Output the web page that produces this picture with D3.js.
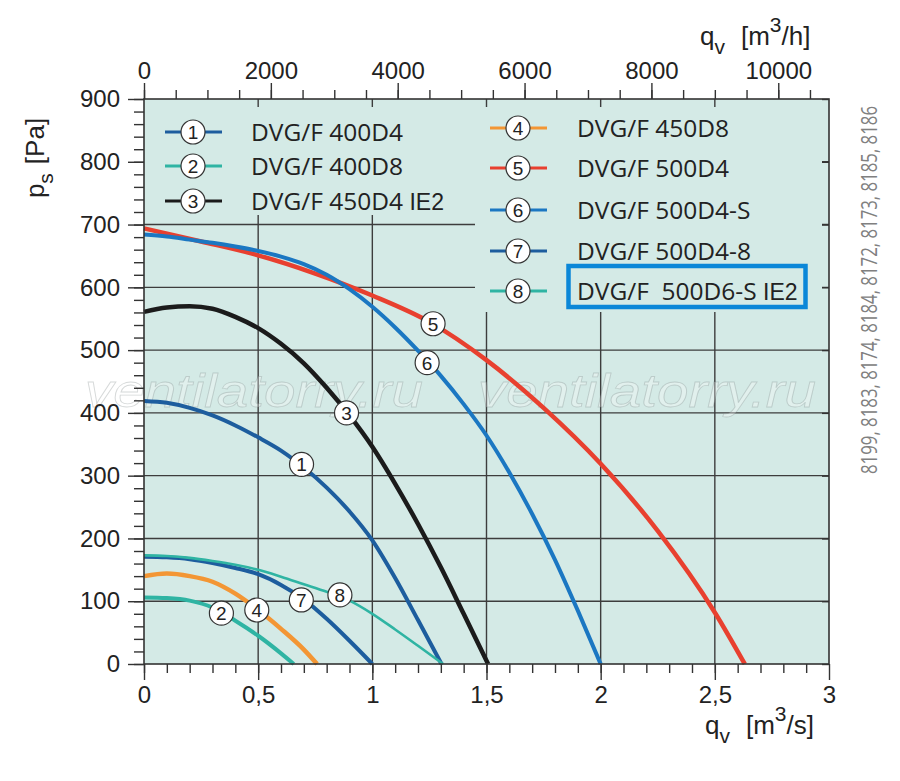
<!DOCTYPE html>
<html>
<head>
<meta charset="utf-8">
<script src="https://cdn.jsdelivr.net/npm/d3@7"></script>
<style>
  html, body { margin: 0; padding: 0; background: #fff; }
  svg { display: block; }
  .tick text { font-family: "Liberation Sans", Arial, sans-serif; fill: #222; }
</style>
</head>
<body>
<div id="chart"></div>
<script>
// fan curves: [q (m3/s), ps (Pa)]
const curve1 = [[0,419],[0.1,416],[0.2,408],[0.3,396],[0.4,380],[0.5,361],[0.6,340],[0.7,313],[0.8,281],[0.9,243],[1.0,197],[1.1,137],[1.2,70],[1.303,0]];
const curve2 = [[0,106],[0.1,105],[0.2,101],[0.3,90],[0.4,69],[0.5,45],[0.6,17],[0.656,0]];
const curve3 = [[0,561],[0.1,568],[0.2,570],[0.3,566],[0.4,553],[0.5,535],[0.6,510],[0.7,479],[0.8,440],[0.9,396],[1.0,346],[1.1,287],[1.2,223],[1.3,154],[1.4,80],[1.507,0]];
const curve4 = [[0,140],[0.1,144],[0.2,140],[0.3,131],[0.4,112],[0.5,86],[0.6,56],[0.7,23],[0.758,0]];
const curve5 = [[0,694],[0.25,673],[0.5,651],[0.75,622],[1.0,587],[1.25,545],[1.5,484],[1.75,408],[2.0,319],[2.25,212],[2.5,82],[2.631,0]];
const curve6 = [[0,684],[0.1,681],[0.2,676],[0.3,671],[0.4,665],[0.5,658],[0.6,649],[0.7,637],[0.8,620],[0.9,597],[1.0,569],[1.1,536],[1.2,499],[1.3,459],[1.4,414],[1.5,364],[1.6,305],[1.7,239],[1.8,166],[1.9,85],[2.0,0]];
const curve7 = [[0,171],[0.1,170],[0.2,167],[0.3,161],[0.4,153],[0.5,143],[0.6,126],[0.7,103],[0.8,72],[0.9,37],[1.0,0]];
const curve8 = [[0,173],[0.1,172],[0.2,169],[0.3,164],[0.4,158],[0.5,150],[0.6,139],[0.7,127],[0.8,115],[0.9,101],[1.0,80],[1.1,55],[1.2,29],[1.31,0]];

const curveNames = ["DVG/F 400D4", "DVG/F 400D8", "DVG/F 450D4", "DVG/F 450D8",
  "DVG/F 500D4", "DVG/F 500D4-S", "DVG/F 500D4-8", "DVG/F  500D6-S"];
const curveSuffix = ["", "", " IE2", "", "", "", "", " IE2"];
// where the numbered marker sits on each curve [q, ps]
const markerAt = [[0.690,318],[0.339,81],[0.887,400],[0.494,86],[1.266,542],[1.240,480],[0.689,102],[0.858,110]];

const qTicks = [0, 0.5, 1, 1.5, 2, 2.5, 3];
const psTicks = [0, 100, 200, 300, 400, 500, 600, 700, 800, 900];
const qhTicks = [0, 2000, 4000, 6000, 8000, 10000];
const sideNote = "8199, 8183, 8174, 8184, 8172, 8173, 8185, 8186";
const watermark = "ventilatorry.ru";

const COLORS = ["#1d5d9e", "#2fb4a3", "#1b1b1b", "#f39634", "#e8402f", "#1b77c2", "#1d5d9e", "#2fb4a3"];
const WIDTHS = [4, 4, 4.5, 4.5, 4.5, 4, 4, 2.6];
const BG = "#d4eae6";
const GRID = "#3d3d3d";
const FONT = "Liberation Sans, Arial, sans-serif";

const W = 900, H = 781;
const X0 = 144, X1 = 829, Y0 = 664, Y1 = 99;

const svg = d3.select("#chart").append("svg")
  .attr("width", W).attr("height", H)
  .attr("viewBox", `0 0 ${W} ${H}`);

svg.append("rect").attr("width", W).attr("height", H).attr("fill", "#fff");

const x = d3.scaleLinear().domain([0, 3]).range([X0, X1]);
const y = d3.scaleLinear().domain([0, 900]).range([Y0, Y1]);
const xh = d3.scaleLinear().domain([0, 3 * 3600]).range([X0, X1]);

// plot background
svg.append("rect")
  .attr("x", X0).attr("y", Y1)
  .attr("width", X1 - X0).attr("height", Y0 - Y1)
  .attr("fill", BG);

// —— grid ——
const grid = svg.append("g").attr("stroke", GRID).attr("stroke-width", 1.4);
grid.selectAll(".gx").data(qTicks.slice(1, -1)).join("line")
  .attr("x1", d => x(d)).attr("x2", d => x(d))
  .attr("y1", Y0).attr("y2", Y1);
grid.selectAll(".gy").data(psTicks.slice(1, -1)).join("line")
  .attr("y1", d => y(d)).attr("y2", d => y(d))
  .attr("x1", X0).attr("x2", X1);

// legend panels hide the grid behind them
svg.append("rect").attr("x", X0).attr("y", 107).attr("width", 475 - X0).attr("height", 108).attr("fill", BG);
svg.append("rect").attr("x", 475).attr("y", 107).attr("width", 822 - 475).attr("height", 205).attr("fill", BG);

// —— watermark ——
[85, 478].forEach(wx => {
  svg.append("text")
    .attr("x", wx).attr("y", 407)
    .attr("textLength", 338).attr("lengthAdjust", "spacingAndGlyphs")
    .attr("font-family", FONT)
    .attr("font-style", "italic")
    .attr("font-size", 46)
    .attr("fill", "rgba(255,255,255,0.3)")
    .attr("stroke", "rgba(120,130,130,0.3)")
    .attr("stroke-width", 0.8)
    .text(watermark);
});

// —— curves ——
const line = d3.line()
  .curve(d3.curveMonotoneX)
  .x(d => x(d[0]))
  .y(d => y(d[1]));

const curves = [curve1, curve2, curve3, curve4, curve5, curve6, curve7, curve8];
svg.append("g").selectAll("path").data(curves).join("path")
  .attr("fill", "none")
  .attr("stroke", (d, i) => COLORS[i])
  .attr("stroke-width", (d, i) => WIDTHS[i])
  .attr("stroke-linejoin", "round")
  .attr("d", line);

function marker(g, cx, cy, n) {
  g.append("circle").attr("cx", cx).attr("cy", cy).attr("r", 12)
    .attr("fill", "#fff").attr("stroke", "#333").attr("stroke-width", 1.2);
  g.append("text").attr("x", cx).attr("y", cy + 7)
    .attr("text-anchor", "middle")
    .attr("font-family", FONT)
    .attr("font-size", 19).attr("fill", "#222")
    .text(n);
}

const markers = svg.append("g");
markerAt.forEach((d, i) => marker(markers, x(d[0]), y(d[1]), i + 1));

// —— frame ——
svg.append("rect")
  .attr("x", X0).attr("y", Y1)
  .attr("width", X1 - X0).attr("height", Y0 - Y1)
  .attr("fill", "none").attr("stroke", "#333").attr("stroke-width", 1.6);

// —— axes ——
function styleAxis(g) {
  g.select(".domain").remove();
  g.selectAll(".tick line").attr("stroke", "#333").attr("stroke-width", 1.4);
}

const commaFmt = d => String(d).replace(".", ",");

// bottom
svg.append("g").attr("transform", `translate(0,${Y0})`)
  .call(d3.axisBottom(x).tickValues(d3.range(0, 30).map(i => i / 10)).tickSize(9).tickFormat(""))
  .call(styleAxis);
svg.append("g").attr("transform", `translate(0,${Y0})`)
  .call(d3.axisBottom(x).tickValues(qTicks).tickSize(16).tickPadding(6).tickFormat(commaFmt))
  .call(styleAxis)
  .call(g => g.selectAll("text").attr("font-size", 24));

// top (m3/h)
svg.append("g").attr("transform", `translate(0,${Y1})`)
  .call(d3.axisTop(xh).tickValues(d3.range(0, 10501, 500)).tickSize(9).tickFormat(""))
  .call(styleAxis);
svg.append("g").attr("transform", `translate(0,${Y1})`)
  .call(d3.axisTop(xh).tickValues(qhTicks).tickSize(16).tickPadding(4).tickFormat(d3.format("d")))
  .call(styleAxis)
  .call(g => g.selectAll("text").attr("font-size", 24));

// left
svg.append("g").attr("transform", `translate(${X0},0)`)
  .call(d3.axisLeft(y).tickValues(d3.range(0, 901, 20)).tickSize(10).tickFormat(""))
  .call(styleAxis);
svg.append("g").attr("transform", `translate(${X0},0)`)
  .call(d3.axisLeft(y).tickValues(psTicks).tickSize(16).tickPadding(8).tickFormat(d3.format("d")))
  .call(styleAxis)
  .call(g => g.selectAll("text").attr("font-size", 24));

// right (inward ticks)
svg.append("g").attr("transform", `translate(${X1},0)`)
  .call(d3.axisRight(y).tickValues(psTicks).tickSize(-7).tickFormat(""))
  .call(styleAxis);

// —— axis titles ——
function unitTitle(tx, ty, unit) {
  const t = svg.append("text").attr("x", tx).attr("y", ty)
    .attr("font-family", FONT)
    .attr("font-size", 26).attr("fill", "#222");
  t.append("tspan").text("q");
  t.append("tspan").attr("dy", 9).attr("font-size", 21).text("v");
  t.append("tspan").attr("dy", -9).attr("dx", 16).text("[m");
  t.append("tspan").attr("dy", -13).attr("font-size", 21).text("3");
  t.append("tspan").attr("dy", 13).text(unit);
}
unitTitle(700, 45, "/h]");
unitTitle(705, 734, "/s]");

const yTitle = svg.append("text")
  .attr("transform", "translate(44,158) rotate(-90)")
  .attr("text-anchor", "middle")
  .attr("font-family", FONT)
  .attr("font-size", 26).attr("fill", "#222");
yTitle.append("tspan").text("p");
yTitle.append("tspan").attr("dy", 9).attr("font-size", 21).text("s");
yTitle.append("tspan").attr("dy", -9).attr("dx", 9).text("[Pa]");

// side note
svg.append("text")
  .attr("transform", "translate(877,290) rotate(-90)")
  .attr("text-anchor", "middle")
  .attr("textLength", 368).attr("lengthAdjust", "spacingAndGlyphs")
  .attr("font-family", "Open Sans, sans-serif")
  .attr("font-size", 21).attr("fill", "#808080")
  .text(sideNote);

// —— legend ——
const legendLeft = [132, 166, 201];
const legendRight = [128, 168, 210, 251, 291];
const legendPos = [
  ...legendLeft.map(ly => ({ lx: 165, cx: 193, tx: 251, ly })),
  ...legendRight.map(ly => ({ lx: 490, cx: 518, tx: 577, ly })),
];

const legend = svg.append("g");
legendPos.forEach((p, i) => {
  legend.append("line")
    .attr("x1", p.lx).attr("x2", p.lx + 57)
    .attr("y1", p.ly).attr("y2", p.ly)
    .attr("stroke", COLORS[i]).attr("stroke-width", 3.2);
  marker(legend, p.cx, p.ly, i + 1);
  const t = legend.append("text")
    .attr("x", p.tx).attr("y", p.ly + 9)
    .attr("font-family", "Open Sans, sans-serif")
    .attr("font-size", 24.5).attr("fill", "#222")
    .attr("xml:space", "preserve")
    .style("white-space", "pre");
  t.append("tspan").text(curveNames[i]);
  if (curveSuffix[i]) {
    t.append("tspan")
      .attr("font-family", "Liberation Sans Narrow, Liberation Sans, sans-serif")
      .attr("font-size", 23)
      .text(curveSuffix[i]);
  }
});

// highlight box around the last entry
svg.append("rect")
  .attr("x", 568.5).attr("y", 266)
  .attr("width", 237).attr("height", 41)
  .attr("fill", "none").attr("stroke", "#0a87d8").attr("stroke-width", 4.5);
</script>
</body>
</html>
